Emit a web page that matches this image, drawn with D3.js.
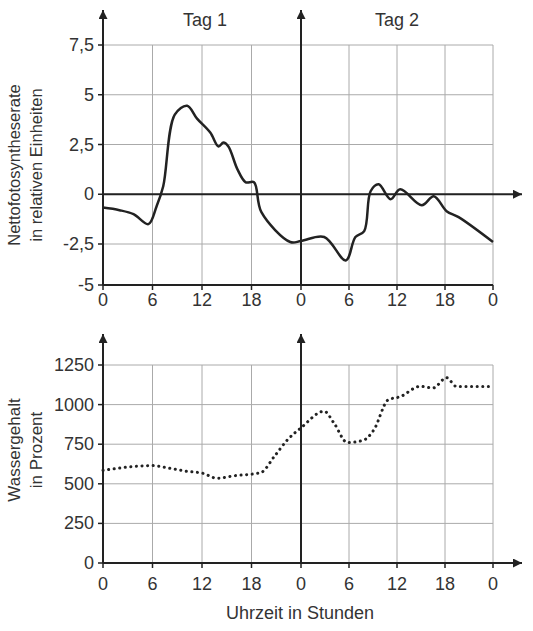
<!DOCTYPE html>
<html><head><meta charset="utf-8">
<script src="https://cdn.jsdelivr.net/npm/d3@7"></script>
<style>body{margin:0;background:#fff}text{font-family:Arial,"Liberation Sans",sans-serif;fill:#333}</style>
</head><body><svg id="c" width="533" height="631"></svg>
<script>
// hours counted continuously over both days
var hourTicks = [0, 6, 12, 18, 24, 30, 36, 42, 48];
var hourLabels = ["0", "6", "12", "18", "0", "6", "12", "18", "0"];
var photoTicks = [-5, -2.5, 0, 2.5, 5, 7.5];
var waterTicks = [0, 250, 500, 750, 1000, 1250];
var photoHours = [0, 2, 3.7, 5.5, 6.5, 7.3, 8.7, 10.2, 11.4, 13, 14, 14.6, 15.2, 16.3, 17.3, 18.3, 19.2, 22.7, 24, 26.9, 29.6, 30.8, 31.9, 32.7, 33.7, 35.2, 36.4, 39.1, 40.6, 42.2, 43.7, 48];
var photoValues = [-0.67, -0.8, -1.0, -1.5, -0.6, 0.4, 4.0, 4.45, 3.8, 3.1, 2.4, 2.6, 2.4, 1.25, 0.6, 0.6, -0.9, -2.4, -2.35, -2.15, -3.5, -2.15, -1.85, 0.15, 0.5, -0.25, 0.25, -0.55, -0.1, -0.85, -1.15, -2.4];
var waterHours = [0, 6, 7.9, 10, 12.2, 13.8, 15.8, 19.1, 20.8, 22.4, 24, 26.9, 28.1, 29.8, 31.8, 33.1, 34.9, 36.4, 38.9, 40.5, 42.2, 43.4, 48];
var waterValues = [585, 615, 600, 580, 565, 535, 550, 570, 675, 780, 853, 958, 885, 760, 775, 840, 1030, 1050, 1115, 1105, 1170, 1115, 1115];

var svg = d3.select('#c');
var x = d3.scaleLinear().domain([0, 24, 48]).range([103, 301, 493]);
var fmt = function(v){ return String(v).replace('.', ','); };

svg.append('defs').append('marker').attr('id', 'arr').attr('viewBox', '0 0 10 10')
	.attr('refX', 10).attr('refY', 5).attr('markerWidth', 9).attr('markerHeight', 9)
	.attr('markerUnits', 'userSpaceOnUse').attr('orient', 'auto')
	.append('path').attr('d', 'M0,0L10,5L0,10Z').attr('fill', '#222');

function panel(y, ticks, yTop, yBottom, zeroVal, arrowTop, labelY) {
	var g = svg.append('g');
	ticks.forEach(function(t){
		g.append('line').attr('x1', x(0)).attr('x2', x(48)).attr('y1', y(t)).attr('y2', y(t)).attr('stroke', '#aaa');
		g.append('line').attr('x1', x(0) - 5).attr('x2', x(0)).attr('y1', y(t)).attr('y2', y(t)).attr('stroke', '#222').attr('stroke-width', 1.5);
		g.append('text').attr('x', x(0) - 9).attr('y', y(t) + 6).attr('text-anchor', 'end').attr('font-size', 18).text(fmt(t));
	});
	hourTicks.forEach(function(h, i){
		g.append('line').attr('x1', x(h)).attr('x2', x(h)).attr('y1', yTop).attr('y2', yBottom).attr('stroke', '#aaa');
		g.append('line').attr('x1', x(h)).attr('x2', x(h)).attr('y1', yBottom).attr('y2', yBottom + 5).attr('stroke', '#222').attr('stroke-width', 1.5);
		g.append('text').attr('x', x(h)).attr('y', labelY).attr('text-anchor', 'middle').attr('font-size', 18).text(hourLabels[i]);
	});
	g.append('line').attr('x1', x(0)).attr('x2', x(0)).attr('y1', yBottom).attr('y2', arrowTop).attr('stroke', '#222').attr('stroke-width', 2).attr('marker-end', 'url(#arr)');
	g.append('line').attr('x1', x(24)).attr('x2', x(24)).attr('y1', yBottom).attr('y2', arrowTop).attr('stroke', '#222').attr('stroke-width', 2).attr('marker-end', 'url(#arr)');
	g.append('line').attr('x1', x(0)).attr('x2', 522).attr('y1', y(zeroVal)).attr('y2', y(zeroVal)).attr('stroke', '#222').attr('stroke-width', 2).attr('marker-end', 'url(#arr)');
	if (zeroVal !== ticks[0]) {
		g.append('line').attr('x1', x(0)).attr('x2', x(48)).attr('y1', yBottom).attr('y2', yBottom).attr('stroke', '#222').attr('stroke-width', 2);
	}
	return g;
}

// top panel
var y1 = d3.scaleLinear().domain([-5, -2.5, 7.5]).range([285, 244, 45]);
panel(y1, photoTicks, 45, 285, 0, 10, 306);
svg.append('path').datum(d3.zip(photoHours, photoValues))
	.attr('d', d3.line().x(function(d){ return x(d[0]); }).y(function(d){ return y1(d[1]); }).curve(d3.curveCatmullRom.alpha(0.5)))
	.attr('fill', 'none').attr('stroke', '#222').attr('stroke-width', 2.5);
svg.append('text').attr('x', 205).attr('y', 26).attr('text-anchor', 'middle').attr('font-size', 18).text('Tag 1');
svg.append('text').attr('x', 397).attr('y', 26).attr('text-anchor', 'middle').attr('font-size', 18).text('Tag 2');
svg.append('text').attr('transform', 'translate(20,165) rotate(-90)').attr('text-anchor', 'middle').attr('font-size', 16.5).text('Nettofotosyntheserate');
svg.append('text').attr('transform', 'translate(42,165) rotate(-90)').attr('text-anchor', 'middle').attr('font-size', 16.5).text('in relativen Einheiten');

// bottom panel
var y2 = d3.scaleLinear().domain([0, 1250]).range([563, 365]);
panel(y2, waterTicks, 365, 563, 0, 334, 590);
svg.append('path').datum(d3.zip(waterHours, waterValues))
	.attr('d', d3.line().x(function(d){ return x(d[0]); }).y(function(d){ return y2(d[1]); }).curve(d3.curveMonotoneX))
	.attr('fill', 'none').attr('stroke', '#222').attr('stroke-width', 3)
	.attr('stroke-dasharray', '0.1,5.5').attr('stroke-linecap', 'round');
svg.append('text').attr('transform', 'translate(20,450) rotate(-90)').attr('text-anchor', 'middle').attr('font-size', 17).text('Wassergehalt');
svg.append('text').attr('transform', 'translate(42,450) rotate(-90)').attr('text-anchor', 'middle').attr('font-size', 17).text('in Prozent');
svg.append('text').attr('x', 300).attr('y', 619).attr('text-anchor', 'middle').attr('font-size', 18).text('Uhrzeit in Stunden');
</script></body></html>
